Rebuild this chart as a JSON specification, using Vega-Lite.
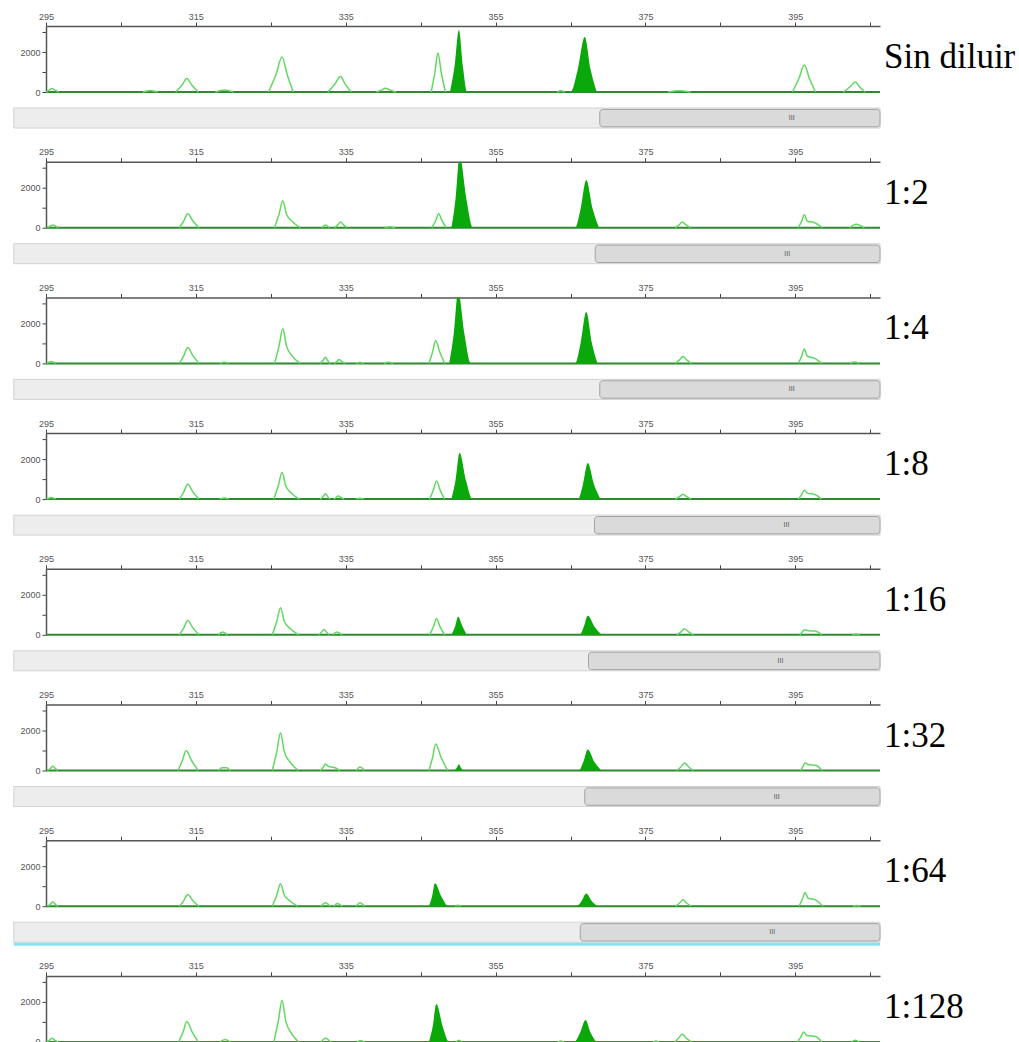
{
"$schema": "https://vega.github.io/schema/vega-lite/v6.json",
"padding": {"left": 12, "top": 12, "right": 0, "bottom": 0},
"background": "white",
"data": {"values": [
{"p":1,"k":1,"t":"o","x":295.0,"y":0},{"p":1,"k":1,"t":"o","x":295.44,"y":90},{"p":1,"k":1,"t":"o","x":295.8,"y":180},{"p":1,"k":1,"t":"o","x":296.2,"y":90},{"p":1,"k":1,"t":"o","x":296.7,"y":0},
{"p":1,"k":2,"t":"o","x":307.9,"y":0},{"p":1,"k":2,"t":"o","x":308.9,"y":80},{"p":1,"k":2,"t":"o","x":309.9,"y":0},
{"p":1,"k":3,"t":"o","x":312.3,"y":0},{"p":1,"k":3,"t":"o","x":313.13,"y":340},{"p":1,"k":3,"t":"o","x":313.8,"y":680},{"p":1,"k":3,"t":"o","x":314.48,"y":340},{"p":1,"k":3,"t":"o","x":315.3,"y":0},
{"p":1,"k":4,"t":"o","x":317.6,"y":0},{"p":1,"k":4,"t":"o","x":318.8,"y":100},{"p":1,"k":4,"t":"o","x":320.0,"y":0},
{"p":1,"k":5,"t":"o","x":324.7,"y":0},{"p":1,"k":5,"t":"o","x":325.69,"y":875},{"p":1,"k":5,"t":"o","x":326.5,"y":1750},{"p":1,"k":5,"t":"o","x":327.18,"y":875},{"p":1,"k":5,"t":"o","x":328.0,"y":0},
{"p":1,"k":6,"t":"o","x":332.6,"y":0},{"p":1,"k":6,"t":"o","x":333.54,"y":390},{"p":1,"k":6,"t":"o","x":334.3,"y":780},{"p":1,"k":6,"t":"o","x":334.93,"y":390},{"p":1,"k":6,"t":"o","x":335.7,"y":0},
{"p":1,"k":7,"t":"o","x":339.1,"y":0},{"p":1,"k":7,"t":"o","x":339.76,"y":95},{"p":1,"k":7,"t":"o","x":340.3,"y":190},{"p":1,"k":7,"t":"o","x":340.93,"y":95},{"p":1,"k":7,"t":"o","x":341.7,"y":0},
{"p":1,"k":8,"t":"o","x":346.4,"y":0},{"p":1,"k":8,"t":"o","x":346.9,"y":975},{"p":1,"k":8,"t":"o","x":347.3,"y":1950},{"p":1,"k":8,"t":"o","x":347.75,"y":975},{"p":1,"k":8,"t":"o","x":348.3,"y":0},
{"p":1,"k":9,"t":"f","x":348.9,"y":0},{"p":1,"k":9,"t":"f","x":349.5,"y":1240},{"p":1,"k":9,"t":"f","x":350.1,"y":3100},{"p":1,"k":9,"t":"f","x":350.65,"y":1240},{"p":1,"k":9,"t":"f","x":351.2,"y":0},
{"p":1,"k":10,"t":"o","x":363.2,"y":0},{"p":1,"k":10,"t":"o","x":363.7,"y":60},{"p":1,"k":10,"t":"o","x":364.2,"y":0},
{"p":1,"k":11,"t":"f","x":365.0,"y":0},{"p":1,"k":11,"t":"f","x":365.95,"y":1100},{"p":1,"k":11,"t":"f","x":366.9,"y":2750},{"p":1,"k":11,"t":"f","x":367.7,"y":1100},{"p":1,"k":11,"t":"f","x":368.5,"y":0},
{"p":1,"k":12,"t":"o","x":378.0,"y":0},{"p":1,"k":12,"t":"o","x":379.5,"y":60},{"p":1,"k":12,"t":"o","x":381.0,"y":0},
{"p":1,"k":13,"t":"o","x":394.6,"y":0},{"p":1,"k":13,"t":"o","x":395.48,"y":675},{"p":1,"k":13,"t":"o","x":396.2,"y":1350},{"p":1,"k":13,"t":"o","x":396.88,"y":675},{"p":1,"k":13,"t":"o","x":397.7,"y":0},
{"p":1,"k":14,"t":"o","x":401.4,"y":0},{"p":1,"k":14,"t":"o","x":402.28,"y":250},{"p":1,"k":14,"t":"o","x":403.0,"y":500},{"p":1,"k":14,"t":"o","x":403.59,"y":250},{"p":1,"k":14,"t":"o","x":404.3,"y":0},

{"p":2,"k":15,"t":"o","x":295.2,"y":0},{"p":2,"k":15,"t":"o","x":295.9,"y":135},{"p":2,"k":15,"t":"o","x":296.6,"y":0},
{"p":2,"k":16,"t":"o","x":312.8,"y":0},{"p":2,"k":16,"t":"o","x":313.41,"y":350},{"p":2,"k":16,"t":"o","x":313.9,"y":700},{"p":2,"k":16,"t":"o","x":314.58,"y":350},{"p":2,"k":16,"t":"o","x":315.4,"y":0},
{"p":2,"k":17,"t":"o","x":325.5,"y":0},{"p":2,"k":17,"t":"o","x":326.1,"y":675},{"p":2,"k":17,"t":"o","x":326.6,"y":1350},{"p":2,"k":17,"t":"o","x":327.1,"y":675},{"p":2,"k":17,"t":"o","x":327.9,"y":300},{"p":2,"k":17,"t":"o","x":328.9,"y":0},
{"p":2,"k":18,"t":"o","x":331.8,"y":0},{"p":2,"k":18,"t":"o","x":332.3,"y":135},{"p":2,"k":18,"t":"o","x":332.8,"y":0},
{"p":2,"k":19,"t":"o","x":333.5,"y":0},{"p":2,"k":19,"t":"o","x":333.94,"y":143},{"p":2,"k":19,"t":"o","x":334.3,"y":285},{"p":2,"k":19,"t":"o","x":334.7,"y":143},{"p":2,"k":19,"t":"o","x":335.2,"y":0},
{"p":2,"k":20,"t":"o","x":340.2,"y":0},{"p":2,"k":20,"t":"o","x":340.9,"y":50},{"p":2,"k":20,"t":"o","x":341.6,"y":0},
{"p":2,"k":21,"t":"o","x":346.5,"y":0},{"p":2,"k":21,"t":"o","x":347.0,"y":350},{"p":2,"k":21,"t":"o","x":347.4,"y":700},{"p":2,"k":21,"t":"o","x":347.85,"y":350},{"p":2,"k":21,"t":"o","x":348.4,"y":0},
{"p":2,"k":22,"t":"f","x":349.1,"y":0},{"p":2,"k":22,"t":"f","x":349.65,"y":1440},{"p":2,"k":22,"t":"f","x":350.2,"y":3600},{"p":2,"k":22,"t":"f","x":351.1,"y":1440},{"p":2,"k":22,"t":"f","x":352.0,"y":0},
{"p":2,"k":23,"t":"f","x":365.6,"y":0},{"p":2,"k":23,"t":"f","x":366.35,"y":952},{"p":2,"k":23,"t":"f","x":367.1,"y":2380},{"p":2,"k":23,"t":"f","x":367.95,"y":952},{"p":2,"k":23,"t":"f","x":368.8,"y":0},
{"p":2,"k":24,"t":"o","x":379.0,"y":0},{"p":2,"k":24,"t":"o","x":379.5,"y":143},{"p":2,"k":24,"t":"o","x":379.9,"y":285},{"p":2,"k":24,"t":"o","x":380.4,"y":143},{"p":2,"k":24,"t":"o","x":381.0,"y":0},
{"p":2,"k":25,"t":"o","x":395.4,"y":0},{"p":2,"k":25,"t":"o","x":395.84,"y":325},{"p":2,"k":25,"t":"o","x":396.2,"y":650},{"p":2,"k":25,"t":"o","x":396.6,"y":325},{"p":2,"k":25,"t":"o","x":397.5,"y":260},{"p":2,"k":25,"t":"o","x":398.6,"y":0},
{"p":2,"k":26,"t":"o","x":402.3,"y":0},{"p":2,"k":26,"t":"o","x":403.1,"y":175},{"p":2,"k":26,"t":"o","x":404.2,"y":0},

{"p":3,"k":27,"t":"o","x":295.1,"y":0},{"p":3,"k":27,"t":"o","x":295.7,"y":100},{"p":3,"k":27,"t":"o","x":296.3,"y":0},
{"p":3,"k":28,"t":"o","x":312.8,"y":0},{"p":3,"k":28,"t":"o","x":313.41,"y":400},{"p":3,"k":28,"t":"o","x":313.9,"y":800},{"p":3,"k":28,"t":"o","x":314.58,"y":400},{"p":3,"k":28,"t":"o","x":315.4,"y":0},
{"p":3,"k":29,"t":"o","x":318.2,"y":0},{"p":3,"k":29,"t":"o","x":318.8,"y":60},{"p":3,"k":29,"t":"o","x":319.4,"y":0},
{"p":3,"k":30,"t":"o","x":325.5,"y":0},{"p":3,"k":30,"t":"o","x":326.1,"y":865},{"p":3,"k":30,"t":"o","x":326.6,"y":1730},{"p":3,"k":30,"t":"o","x":327.1,"y":865},{"p":3,"k":30,"t":"o","x":327.9,"y":350},{"p":3,"k":30,"t":"o","x":328.9,"y":0},
{"p":3,"k":31,"t":"o","x":331.6,"y":0},{"p":3,"k":31,"t":"o","x":331.99,"y":155},{"p":3,"k":31,"t":"o","x":332.3,"y":310},{"p":3,"k":31,"t":"o","x":332.57,"y":155},{"p":3,"k":31,"t":"o","x":332.9,"y":0},
{"p":3,"k":32,"t":"o","x":333.5,"y":0},{"p":3,"k":32,"t":"o","x":333.83,"y":100},{"p":3,"k":32,"t":"o","x":334.1,"y":200},{"p":3,"k":32,"t":"o","x":334.46,"y":100},{"p":3,"k":32,"t":"o","x":334.9,"y":0},
{"p":3,"k":33,"t":"o","x":336.4,"y":0},{"p":3,"k":33,"t":"o","x":336.9,"y":50},{"p":3,"k":33,"t":"o","x":337.4,"y":0},
{"p":3,"k":34,"t":"o","x":340.1,"y":0},{"p":3,"k":34,"t":"o","x":340.7,"y":60},{"p":3,"k":34,"t":"o","x":341.3,"y":0},
{"p":3,"k":35,"t":"o","x":346.1,"y":0},{"p":3,"k":35,"t":"o","x":346.6,"y":580},{"p":3,"k":35,"t":"o","x":347.0,"y":1150},{"p":3,"k":35,"t":"o","x":347.54,"y":580},{"p":3,"k":35,"t":"o","x":348.2,"y":0},
{"p":3,"k":36,"t":"f","x":348.8,"y":0},{"p":3,"k":36,"t":"f","x":349.4,"y":1440},{"p":3,"k":36,"t":"f","x":350.0,"y":3600},{"p":3,"k":36,"t":"f","x":350.85,"y":1440},{"p":3,"k":36,"t":"f","x":351.7,"y":0},
{"p":3,"k":37,"t":"f","x":365.6,"y":0},{"p":3,"k":37,"t":"f","x":366.35,"y":1026},{"p":3,"k":37,"t":"f","x":367.1,"y":2565},{"p":3,"k":37,"t":"f","x":367.85,"y":1026},{"p":3,"k":37,"t":"f","x":368.6,"y":0},
{"p":3,"k":38,"t":"o","x":379.0,"y":0},{"p":3,"k":38,"t":"o","x":379.55,"y":175},{"p":3,"k":38,"t":"o","x":380.0,"y":350},{"p":3,"k":38,"t":"o","x":380.5,"y":175},{"p":3,"k":38,"t":"o","x":381.1,"y":0},
{"p":3,"k":39,"t":"o","x":395.4,"y":0},{"p":3,"k":39,"t":"o","x":395.84,"y":358},{"p":3,"k":39,"t":"o","x":396.2,"y":715},{"p":3,"k":39,"t":"o","x":396.6,"y":358},{"p":3,"k":39,"t":"o","x":397.6,"y":250},{"p":3,"k":39,"t":"o","x":398.5,"y":0},
{"p":3,"k":40,"t":"o","x":402.3,"y":0},{"p":3,"k":40,"t":"o","x":402.9,"y":70},{"p":3,"k":40,"t":"o","x":403.5,"y":0},

{"p":4,"k":41,"t":"o","x":295.1,"y":0},{"p":4,"k":41,"t":"o","x":295.7,"y":80},{"p":4,"k":41,"t":"o","x":296.3,"y":0},
{"p":4,"k":42,"t":"o","x":312.8,"y":0},{"p":4,"k":42,"t":"o","x":313.41,"y":375},{"p":4,"k":42,"t":"o","x":313.9,"y":750},{"p":4,"k":42,"t":"o","x":314.58,"y":375},{"p":4,"k":42,"t":"o","x":315.4,"y":0},
{"p":4,"k":43,"t":"o","x":318.2,"y":0},{"p":4,"k":43,"t":"o","x":318.8,"y":60},{"p":4,"k":43,"t":"o","x":319.4,"y":0},
{"p":4,"k":44,"t":"o","x":325.4,"y":0},{"p":4,"k":44,"t":"o","x":326.0,"y":665},{"p":4,"k":44,"t":"o","x":326.5,"y":1330},{"p":4,"k":44,"t":"o","x":327.0,"y":665},{"p":4,"k":44,"t":"o","x":327.8,"y":280},{"p":4,"k":44,"t":"o","x":328.8,"y":0},
{"p":4,"k":45,"t":"o","x":331.6,"y":0},{"p":4,"k":45,"t":"o","x":331.99,"y":135},{"p":4,"k":45,"t":"o","x":332.3,"y":270},{"p":4,"k":45,"t":"o","x":332.57,"y":135},{"p":4,"k":45,"t":"o","x":332.9,"y":0},
{"p":4,"k":46,"t":"o","x":333.4,"y":0},{"p":4,"k":46,"t":"o","x":333.73,"y":80},{"p":4,"k":46,"t":"o","x":334.0,"y":160},{"p":4,"k":46,"t":"o","x":334.36,"y":80},{"p":4,"k":46,"t":"o","x":334.8,"y":0},
{"p":4,"k":47,"t":"o","x":336.4,"y":0},{"p":4,"k":47,"t":"o","x":336.9,"y":40},{"p":4,"k":47,"t":"o","x":337.4,"y":0},
{"p":4,"k":48,"t":"o","x":346.2,"y":0},{"p":4,"k":48,"t":"o","x":346.7,"y":450},{"p":4,"k":48,"t":"o","x":347.1,"y":900},{"p":4,"k":48,"t":"o","x":347.6,"y":450},{"p":4,"k":48,"t":"o","x":348.2,"y":0},
{"p":4,"k":49,"t":"f","x":349.1,"y":0},{"p":4,"k":49,"t":"f","x":349.65,"y":930},{"p":4,"k":49,"t":"f","x":350.2,"y":2320},{"p":4,"k":49,"t":"f","x":351.05,"y":930},{"p":4,"k":49,"t":"f","x":351.9,"y":0},
{"p":4,"k":50,"t":"f","x":366.0,"y":0},{"p":4,"k":50,"t":"f","x":366.65,"y":720},{"p":4,"k":50,"t":"f","x":367.3,"y":1800},{"p":4,"k":50,"t":"f","x":368.15,"y":720},{"p":4,"k":50,"t":"f","x":369.0,"y":0},
{"p":4,"k":51,"t":"o","x":379.0,"y":0},{"p":4,"k":51,"t":"o","x":379.55,"y":123},{"p":4,"k":51,"t":"o","x":380.0,"y":245},{"p":4,"k":51,"t":"o","x":380.5,"y":123},{"p":4,"k":51,"t":"o","x":381.1,"y":0},
{"p":4,"k":52,"t":"o","x":395.4,"y":0},{"p":4,"k":52,"t":"o","x":395.84,"y":223},{"p":4,"k":52,"t":"o","x":396.2,"y":445},{"p":4,"k":52,"t":"o","x":396.6,"y":300},{"p":4,"k":52,"t":"o","x":397.6,"y":230},{"p":4,"k":52,"t":"o","x":398.5,"y":0},

{"p":5,"k":53,"t":"o","x":312.8,"y":0},{"p":5,"k":53,"t":"o","x":313.41,"y":360},{"p":5,"k":53,"t":"o","x":313.9,"y":720},{"p":5,"k":53,"t":"o","x":314.58,"y":360},{"p":5,"k":53,"t":"o","x":315.4,"y":0},
{"p":5,"k":54,"t":"o","x":318.0,"y":0},{"p":5,"k":54,"t":"o","x":318.6,"y":135},{"p":5,"k":54,"t":"o","x":319.2,"y":0},
{"p":5,"k":55,"t":"o","x":325.2,"y":0},{"p":5,"k":55,"t":"o","x":325.8,"y":675},{"p":5,"k":55,"t":"o","x":326.3,"y":1350},{"p":5,"k":55,"t":"o","x":326.8,"y":675},{"p":5,"k":55,"t":"o","x":327.6,"y":300},{"p":5,"k":55,"t":"o","x":328.7,"y":0},
{"p":5,"k":56,"t":"o","x":331.4,"y":0},{"p":5,"k":56,"t":"o","x":331.79,"y":135},{"p":5,"k":56,"t":"o","x":332.1,"y":270},{"p":5,"k":56,"t":"o","x":332.42,"y":135},{"p":5,"k":56,"t":"o","x":332.8,"y":0},
{"p":5,"k":57,"t":"o","x":333.3,"y":0},{"p":5,"k":57,"t":"o","x":333.8,"y":135},{"p":5,"k":57,"t":"o","x":334.5,"y":0},
{"p":5,"k":58,"t":"o","x":346.2,"y":0},{"p":5,"k":58,"t":"o","x":346.7,"y":400},{"p":5,"k":58,"t":"o","x":347.1,"y":800},{"p":5,"k":58,"t":"o","x":347.6,"y":400},{"p":5,"k":58,"t":"o","x":348.2,"y":0},
{"p":5,"k":59,"t":"f","x":349.1,"y":0},{"p":5,"k":59,"t":"f","x":349.55,"y":360},{"p":5,"k":59,"t":"f","x":350.0,"y":900},{"p":5,"k":59,"t":"f","x":350.65,"y":360},{"p":5,"k":59,"t":"f","x":351.3,"y":0},
{"p":5,"k":60,"t":"f","x":366.2,"y":0},{"p":5,"k":60,"t":"f","x":366.75,"y":380},{"p":5,"k":60,"t":"f","x":367.3,"y":950},{"p":5,"k":60,"t":"f","x":368.25,"y":380},{"p":5,"k":60,"t":"f","x":369.2,"y":0},
{"p":5,"k":61,"t":"o","x":379.2,"y":0},{"p":5,"k":61,"t":"o","x":379.75,"y":150},{"p":5,"k":61,"t":"o","x":380.2,"y":300},{"p":5,"k":61,"t":"o","x":380.74,"y":150},{"p":5,"k":61,"t":"o","x":381.4,"y":0},
{"p":5,"k":62,"t":"o","x":395.6,"y":0},{"p":5,"k":62,"t":"o","x":395.9,"y":125},{"p":5,"k":62,"t":"o","x":396.2,"y":250},{"p":5,"k":62,"t":"o","x":396.8,"y":200},{"p":5,"k":62,"t":"o","x":397.6,"y":190},{"p":5,"k":62,"t":"o","x":398.5,"y":0},
{"p":5,"k":63,"t":"o","x":402.6,"y":0},{"p":5,"k":63,"t":"o","x":403.1,"y":40},{"p":5,"k":63,"t":"o","x":403.6,"y":0},

{"p":6,"k":64,"t":"o","x":295.2,"y":0},{"p":6,"k":64,"t":"o","x":295.59,"y":108},{"p":6,"k":64,"t":"o","x":295.9,"y":215},{"p":6,"k":64,"t":"o","x":296.22,"y":108},{"p":6,"k":64,"t":"o","x":296.6,"y":0},
{"p":6,"k":65,"t":"o","x":312.6,"y":0},{"p":6,"k":65,"t":"o","x":313.2,"y":500},{"p":6,"k":65,"t":"o","x":313.7,"y":1000},{"p":6,"k":65,"t":"o","x":314.42,"y":500},{"p":6,"k":65,"t":"o","x":315.3,"y":0},
{"p":6,"k":66,"t":"o","x":318.0,"y":0},{"p":6,"k":66,"t":"o","x":318.5,"y":135},{"p":6,"k":66,"t":"o","x":319.1,"y":135},{"p":6,"k":66,"t":"o","x":319.6,"y":0},
{"p":6,"k":67,"t":"o","x":325.2,"y":0},{"p":6,"k":67,"t":"o","x":325.8,"y":945},{"p":6,"k":67,"t":"o","x":326.3,"y":1890},{"p":6,"k":67,"t":"o","x":326.8,"y":945},{"p":6,"k":67,"t":"o","x":327.6,"y":400},{"p":6,"k":67,"t":"o","x":328.7,"y":0},
{"p":6,"k":68,"t":"o","x":331.6,"y":0},{"p":6,"k":68,"t":"o","x":331.99,"y":163},{"p":6,"k":68,"t":"o","x":332.3,"y":325},{"p":6,"k":68,"t":"o","x":332.7,"y":200},{"p":6,"k":68,"t":"o","x":333.5,"y":150},{"p":6,"k":68,"t":"o","x":334.2,"y":0},
{"p":6,"k":69,"t":"o","x":336.4,"y":0},{"p":6,"k":69,"t":"o","x":336.9,"y":175},{"p":6,"k":69,"t":"o","x":337.5,"y":0},
{"p":6,"k":70,"t":"o","x":346.1,"y":0},{"p":6,"k":70,"t":"o","x":346.6,"y":660},{"p":6,"k":70,"t":"o","x":347.0,"y":1320},{"p":6,"k":70,"t":"o","x":347.72,"y":660},{"p":6,"k":70,"t":"o","x":348.6,"y":0},
{"p":6,"k":71,"t":"f","x":349.5,"y":0},{"p":6,"k":71,"t":"f","x":349.8,"y":124},{"p":6,"k":71,"t":"f","x":350.1,"y":310},{"p":6,"k":71,"t":"f","x":350.4,"y":124},{"p":6,"k":71,"t":"f","x":350.7,"y":0},
{"p":6,"k":72,"t":"f","x":366.1,"y":0},{"p":6,"k":72,"t":"f","x":366.7,"y":420},{"p":6,"k":72,"t":"f","x":367.3,"y":1050},{"p":6,"k":72,"t":"f","x":368.2,"y":420},{"p":6,"k":72,"t":"f","x":369.1,"y":0},
{"p":6,"k":73,"t":"o","x":379.2,"y":0},{"p":6,"k":73,"t":"o","x":379.75,"y":190},{"p":6,"k":73,"t":"o","x":380.2,"y":380},{"p":6,"k":73,"t":"o","x":380.74,"y":190},{"p":6,"k":73,"t":"o","x":381.4,"y":0},
{"p":6,"k":74,"t":"o","x":395.7,"y":0},{"p":6,"k":74,"t":"o","x":396.0,"y":190},{"p":6,"k":74,"t":"o","x":396.3,"y":380},{"p":6,"k":74,"t":"o","x":396.8,"y":290},{"p":6,"k":74,"t":"o","x":397.7,"y":260},{"p":6,"k":74,"t":"o","x":398.6,"y":0},

{"p":7,"k":75,"t":"o","x":295.2,"y":0},{"p":7,"k":75,"t":"o","x":295.59,"y":105},{"p":7,"k":75,"t":"o","x":295.9,"y":210},{"p":7,"k":75,"t":"o","x":296.22,"y":105},{"p":7,"k":75,"t":"o","x":296.6,"y":0},
{"p":7,"k":76,"t":"o","x":312.8,"y":0},{"p":7,"k":76,"t":"o","x":313.41,"y":290},{"p":7,"k":76,"t":"o","x":313.9,"y":580},{"p":7,"k":76,"t":"o","x":314.58,"y":290},{"p":7,"k":76,"t":"o","x":315.4,"y":0},
{"p":7,"k":77,"t":"o","x":325.2,"y":0},{"p":7,"k":77,"t":"o","x":325.8,"y":560},{"p":7,"k":77,"t":"o","x":326.3,"y":1120},{"p":7,"k":77,"t":"o","x":326.8,"y":560},{"p":7,"k":77,"t":"o","x":327.6,"y":250},{"p":7,"k":77,"t":"o","x":328.6,"y":0},
{"p":7,"k":78,"t":"o","x":331.7,"y":0},{"p":7,"k":78,"t":"o","x":332.3,"y":175},{"p":7,"k":78,"t":"o","x":332.9,"y":0},
{"p":7,"k":79,"t":"o","x":333.4,"y":0},{"p":7,"k":79,"t":"o","x":333.9,"y":140},{"p":7,"k":79,"t":"o","x":334.5,"y":0},
{"p":7,"k":80,"t":"o","x":336.4,"y":0},{"p":7,"k":80,"t":"o","x":336.9,"y":175},{"p":7,"k":80,"t":"o","x":337.5,"y":0},
{"p":7,"k":81,"t":"f","x":346.1,"y":0},{"p":7,"k":81,"t":"f","x":346.5,"y":460},{"p":7,"k":81,"t":"f","x":346.9,"y":1150},{"p":7,"k":81,"t":"f","x":347.8,"y":460},{"p":7,"k":81,"t":"f","x":348.7,"y":0},
{"p":7,"k":82,"t":"o","x":349.6,"y":0},{"p":7,"k":82,"t":"o","x":350.0,"y":50},{"p":7,"k":82,"t":"o","x":350.4,"y":0},
{"p":7,"k":83,"t":"f","x":365.8,"y":0},{"p":7,"k":83,"t":"f","x":366.45,"y":250},{"p":7,"k":83,"t":"f","x":367.1,"y":630},{"p":7,"k":83,"t":"f","x":367.85,"y":250},{"p":7,"k":83,"t":"f","x":368.6,"y":0},
{"p":7,"k":84,"t":"o","x":379.0,"y":0},{"p":7,"k":84,"t":"o","x":379.55,"y":160},{"p":7,"k":84,"t":"o","x":380.0,"y":320},{"p":7,"k":84,"t":"o","x":380.5,"y":160},{"p":7,"k":84,"t":"o","x":381.1,"y":0},
{"p":7,"k":85,"t":"o","x":395.5,"y":0},{"p":7,"k":85,"t":"o","x":395.94,"y":345},{"p":7,"k":85,"t":"o","x":396.3,"y":690},{"p":7,"k":85,"t":"o","x":396.7,"y":400},{"p":7,"k":85,"t":"o","x":397.6,"y":330},{"p":7,"k":85,"t":"o","x":398.7,"y":0},
{"p":7,"k":86,"t":"o","x":402.7,"y":0},{"p":7,"k":86,"t":"o","x":403.2,"y":40},{"p":7,"k":86,"t":"o","x":403.7,"y":0},

{"p":8,"k":87,"t":"o","x":295.1,"y":0},{"p":8,"k":87,"t":"o","x":295.49,"y":90},{"p":8,"k":87,"t":"o","x":295.8,"y":180},{"p":8,"k":87,"t":"o","x":296.16,"y":90},{"p":8,"k":87,"t":"o","x":296.6,"y":0},
{"p":8,"k":88,"t":"o","x":312.7,"y":0},{"p":8,"k":88,"t":"o","x":313.31,"y":510},{"p":8,"k":88,"t":"o","x":313.8,"y":1020},{"p":8,"k":88,"t":"o","x":314.48,"y":510},{"p":8,"k":88,"t":"o","x":315.3,"y":0},
{"p":8,"k":89,"t":"o","x":318.2,"y":0},{"p":8,"k":89,"t":"o","x":318.9,"y":120},{"p":8,"k":89,"t":"o","x":319.6,"y":0},
{"p":8,"k":90,"t":"o","x":325.4,"y":0},{"p":8,"k":90,"t":"o","x":326.0,"y":1035},{"p":8,"k":90,"t":"o","x":326.5,"y":2070},{"p":8,"k":90,"t":"o","x":327.0,"y":1035},{"p":8,"k":90,"t":"o","x":327.8,"y":400},{"p":8,"k":90,"t":"o","x":328.7,"y":0},
{"p":8,"k":91,"t":"o","x":331.7,"y":0},{"p":8,"k":91,"t":"o","x":332.3,"y":180},{"p":8,"k":91,"t":"o","x":333.0,"y":0},
{"p":8,"k":92,"t":"o","x":336.5,"y":0},{"p":8,"k":92,"t":"o","x":337.0,"y":60},{"p":8,"k":92,"t":"o","x":337.5,"y":0},
{"p":8,"k":93,"t":"f","x":346.1,"y":0},{"p":8,"k":93,"t":"f","x":346.6,"y":760},{"p":8,"k":93,"t":"f","x":347.1,"y":1900},{"p":8,"k":93,"t":"f","x":347.95,"y":760},{"p":8,"k":93,"t":"f","x":348.8,"y":0},
{"p":8,"k":94,"t":"o","x":349.7,"y":0},{"p":8,"k":94,"t":"o","x":350.1,"y":80},{"p":8,"k":94,"t":"o","x":350.5,"y":0},
{"p":8,"k":95,"t":"o","x":363.3,"y":0},{"p":8,"k":95,"t":"o","x":363.7,"y":50},{"p":8,"k":95,"t":"o","x":364.1,"y":0},
{"p":8,"k":96,"t":"f","x":365.5,"y":0},{"p":8,"k":96,"t":"f","x":366.25,"y":440},{"p":8,"k":96,"t":"f","x":367.0,"y":1100},{"p":8,"k":96,"t":"f","x":367.7,"y":440},{"p":8,"k":96,"t":"f","x":368.4,"y":0},
{"p":8,"k":97,"t":"o","x":376.0,"y":0},{"p":8,"k":97,"t":"o","x":376.4,"y":40},{"p":8,"k":97,"t":"o","x":376.8,"y":0},
{"p":8,"k":98,"t":"o","x":378.9,"y":0},{"p":8,"k":98,"t":"o","x":379.45,"y":200},{"p":8,"k":98,"t":"o","x":379.9,"y":400},{"p":8,"k":98,"t":"o","x":380.4,"y":200},{"p":8,"k":98,"t":"o","x":381.1,"y":0},
{"p":8,"k":99,"t":"o","x":395.3,"y":0},{"p":8,"k":99,"t":"o","x":395.74,"y":250},{"p":8,"k":99,"t":"o","x":396.1,"y":500},{"p":8,"k":99,"t":"o","x":396.5,"y":320},{"p":8,"k":99,"t":"o","x":397.7,"y":265},{"p":8,"k":99,"t":"o","x":398.5,"y":0},
{"p":8,"k":100,"t":"o","x":402.5,"y":0},{"p":8,"k":100,"t":"o","x":403.0,"y":80},{"p":8,"k":100,"t":"o","x":403.5,"y":0},

{"p":1,"t":"s","s":368.9,"lab":"Sin diluir"},{"p":2,"t":"s","s":368.3,"lab":"1:2"},{"p":3,"t":"s","s":368.9,"lab":"1:4"},{"p":4,"t":"s","s":368.2,"lab":"1:8"},
{"p":5,"t":"s","s":367.4,"lab":"1:16"},{"p":6,"t":"s","s":366.9,"lab":"1:32"},{"p":7,"t":"s","s":366.3,"lab":"1:64"},{"p":8,"t":"b","lab":"1:128"},{"p":7,"t":"c"}
]},
"facet": {"row": {"field": "p", "type": "ordinal", "title": null, "header": {"labels": false}}},
"spacing": {"row": 69.7},
"bounds": "flush",
"resolve": {"axis": {"x": "independent"}},
"spec": {
  "width": 834,
  "height": 66,
  "layer": [
    {"transform": [{"filter": "datum.t=='s'"}],
     "mark": {"type": "rect", "fill": "#ededed", "stroke": "#d2d2d2", "strokeWidth": 1},
     "encoding": {
       "x": {"datum": 290.7, "type": "quantitative", "scale": {"domain": [295, 406.3], "nice": false, "zero": false},
         "axis": {"orient": "top", "title": null, "values": [295,305,315,325,335,345,355,365,375,385,395,405], "labelExpr": "(datum.value-295)%20==0 ? datum.label : ''", "format": "d"}},
       "x2": {"datum": 406.3},
       "y": {"datum": -800, "type": "quantitative", "scale": {"domain": [0, 3300], "nice": false},
         "axis": {"title": null, "values": [0, 1000, 2000, 3000], "labelExpr": "datum.value%2000==0 ? datum.label : ''", "format": "d"}},
       "y2": {"datum": -1800}}},
    {"transform": [{"filter": "datum.t=='s'"}],
     "mark": {"type": "rect", "fill": "#dadada", "stroke": "#a3a3a3", "strokeWidth": 1, "cornerRadius": 3},
     "encoding": {
       "x": {"field": "s", "type": "quantitative", "scale": {"domain": [295, 406.3], "nice": false, "zero": false},
         "axis": {"orient": "top", "title": null, "values": [295,305,315,325,335,345,355,365,375,385,395,405], "labelExpr": "(datum.value-295)%20==0 ? datum.label : ''", "format": "d"}},
       "x2": {"datum": 406.3},
       "y": {"datum": -870, "type": "quantitative", "scale": {"domain": [0, 3300], "nice": false},
         "axis": {"title": null, "values": [0, 1000, 2000, 3000], "labelExpr": "datum.value%2000==0 ? datum.label : ''", "format": "d"}},
       "y2": {"datum": -1740}}},
    {"transform": [{"filter": "datum.t=='s'"}],
     "mark": {"type": "text", "text": "III", "dx": 192, "font": "Liberation Sans", "fontSize": 7, "color": "#555555"},
     "encoding": {
       "x": {"field": "s", "type": "quantitative", "scale": {"domain": [295, 406.3], "nice": false, "zero": false},
         "axis": {"orient": "top", "title": null, "values": [295,305,315,325,335,345,355,365,375,385,395,405], "labelExpr": "(datum.value-295)%20==0 ? datum.label : ''", "format": "d"}},
       "y": {"datum": -1300, "type": "quantitative", "scale": {"domain": [0, 3300], "nice": false},
         "axis": {"title": null, "values": [0, 1000, 2000, 3000], "labelExpr": "datum.value%2000==0 ? datum.label : ''", "format": "d"}}}},
    {"transform": [{"filter": "datum.t=='c'"}],
     "mark": {"type": "rule", "color": "#86e4ee", "strokeWidth": 3},
     "encoding": {
       "x": {"datum": 290.7, "type": "quantitative", "scale": {"domain": [295, 406.3], "nice": false, "zero": false},
         "axis": {"orient": "top", "title": null, "values": [295,305,315,325,335,345,355,365,375,385,395,405], "labelExpr": "(datum.value-295)%20==0 ? datum.label : ''", "format": "d"}},
       "x2": {"datum": 406.3},
       "y": {"datum": -1900, "type": "quantitative", "scale": {"domain": [0, 3300], "nice": false},
         "axis": {"title": null, "values": [0, 1000, 2000, 3000], "labelExpr": "datum.value%2000==0 ? datum.label : ''", "format": "d"}}}},
    {"transform": [{"filter": "datum.t=='s' || datum.t=='b'"}],
     "mark": {"type": "rule", "color": "#2f8a2f", "strokeWidth": 2},
     "encoding": {
       "y": {"datum": 0, "type": "quantitative", "scale": {"domain": [0, 3300], "nice": false},
         "axis": {"title": null, "values": [0, 1000, 2000, 3000], "labelExpr": "datum.value%2000==0 ? datum.label : ''", "format": "d"}}}},
    {"transform": [{"filter": "datum.t=='s' || datum.t=='b'"}],
     "mark": {"type": "text", "align": "left", "baseline": "middle", "dx": 4, "dy": -2, "font": "Liberation Serif, Times New Roman, DejaVu Serif, serif", "fontSize": 35, "color": "black"},
     "encoding": {
       "x": {"datum": 406.3, "type": "quantitative", "scale": {"domain": [295, 406.3], "nice": false, "zero": false},
         "axis": {"orient": "top", "title": null, "values": [295,305,315,325,335,345,355,365,375,385,395,405], "labelExpr": "(datum.value-295)%20==0 ? datum.label : ''", "format": "d"}},
       "y": {"datum": 1650, "type": "quantitative", "scale": {"domain": [0, 3300], "nice": false},
         "axis": {"title": null, "values": [0, 1000, 2000, 3000], "labelExpr": "datum.value%2000==0 ? datum.label : ''", "format": "d"}},
       "text": {"field": "lab", "type": "nominal"}}},
    {"transform": [{"filter": "datum.t=='o'"}],
     "mark": {"type": "line", "interpolate": "monotone", "color": "#62d862", "strokeWidth": 1.5},
     "encoding": {
       "x": {"field": "x", "type": "quantitative", "scale": {"domain": [295, 406.3], "nice": false, "zero": false},
         "axis": {"orient": "top", "title": null, "values": [295,305,315,325,335,345,355,365,375,385,395,405], "labelExpr": "(datum.value-295)%20==0 ? datum.label : ''", "format": "d"}},
       "y": {"field": "y", "type": "quantitative", "scale": {"domain": [0, 3300], "nice": false},
         "axis": {"title": null, "values": [0, 1000, 2000, 3000], "labelExpr": "datum.value%2000==0 ? datum.label : ''", "format": "d"}},
       "detail": {"field": "k", "type": "nominal"}}},
    {"transform": [{"filter": "datum.t=='f'"}],
     "mark": {"type": "area", "interpolate": "monotone", "color": "#0aa80a", "clip": true},
     "encoding": {
       "x": {"field": "x", "type": "quantitative", "scale": {"domain": [295, 406.3], "nice": false, "zero": false},
         "axis": {"orient": "top", "title": null, "values": [295,305,315,325,335,345,355,365,375,385,395,405], "labelExpr": "(datum.value-295)%20==0 ? datum.label : ''", "format": "d"}},
       "y": {"field": "y", "type": "quantitative", "scale": {"domain": [0, 3300], "nice": false},
         "axis": {"title": null, "values": [0, 1000, 2000, 3000], "labelExpr": "datum.value%2000==0 ? datum.label : ''", "format": "d"}},
       "detail": {"field": "k", "type": "nominal"}}}
  ]
},
"config": {
  "view": {"stroke": null},
  "axis": {"grid": false, "domainColor": "#555555", "domainWidth": 1.5, "tickColor": "#444444", "tickSize": 4, "tickWidth": 1,
    "labelFont": "Liberation Sans", "labelFontSize": 9, "labelColor": "#555555", "labelFlush": false, "labelOverlap": false},
  "axisX": {"labelPadding": 1},
  "axisY": {"labelPadding": 2}
}
}
